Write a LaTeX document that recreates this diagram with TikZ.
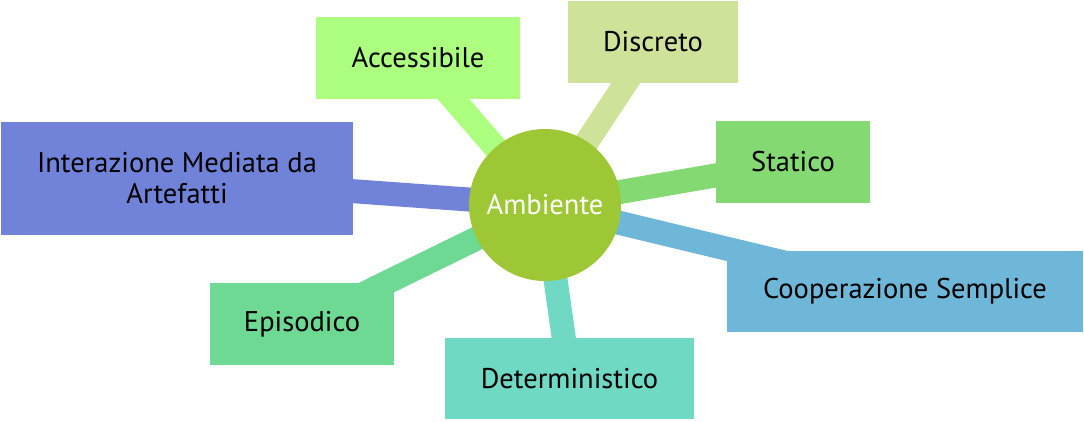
\documentclass[tikz,border=0pt]{standalone}
\usepackage{fontspec}
\setmainfont{PT Sans}
\usetikzlibrary{backgrounds}
\definecolor{cCenter}{HTML}{9DC734}
\definecolor{cAcc}{HTML}{ADFF80}
\definecolor{cDis}{HTML}{CFE299}
\definecolor{cInt}{HTML}{7083D9}
\definecolor{cSta}{HTML}{84D973}
\definecolor{cCoo}{HTML}{6FB7D9}
\definecolor{cEpi}{HTML}{6ED992}
\definecolor{cDet}{HTML}{6FD9C4}
\begin{document}
\begin{tikzpicture}[x=1pt,y=-1pt,
  leaf/.style={rectangle,inner sep=0pt,align=center,font=\fontsize{28.5}{31}\selectfont,text=black},
  band/.style={line width=24pt}]
\useasboundingbox (0,0) rectangle (1084,421);
\node[circle,fill=cCenter,minimum size=152pt,inner sep=0pt,text=white,font=\fontsize{28.5}{31}\selectfont] (c) at (545,205) {Ambiente};
\node[leaf,fill=cInt,minimum width=352pt,minimum height=113pt] (int) at (177,178.5) {Interazione Mediata da\\Artefatti};
\node[leaf,fill=cAcc,minimum width=204pt,minimum height=82pt] (acc) at (418,58) {Accessibile};
\node[leaf,fill=cDis,minimum width=170pt,minimum height=82pt] (dis) at (653,42) {Discreto};
\node[leaf,fill=cSta,minimum width=154pt,minimum height=82pt] (sta) at (793,162) {Statico};
\node[leaf,fill=cCoo,minimum width=356pt,minimum height=81pt] (coo) at (905,291.5) {Cooperazione Semplice};
\node[leaf,fill=cEpi,minimum width=184pt,minimum height=82pt] (epi) at (302,324) {Episodico};
\node[leaf,fill=cDet,minimum width=249pt,minimum height=81pt] (det) at (569.5,378.5) {Deterministico};
\begin{scope}[on background layer]
\fill[white] (0,0) rectangle (1084,421);
\draw[band,cInt] (c.center) -- (int.center);
\draw[band,cAcc] (c.center) -- (acc.center);
\draw[band,cDis] (c.center) -- (dis.center);
\draw[band,cSta] (c.center) -- (sta.center);
\draw[band,cCoo] (c.center) -- (coo.center);
\draw[band,cEpi] (c.center) -- (epi.center);
\draw[band,cDet] (c.center) -- (det.center);
\end{scope}
\end{tikzpicture}
\end{document}
